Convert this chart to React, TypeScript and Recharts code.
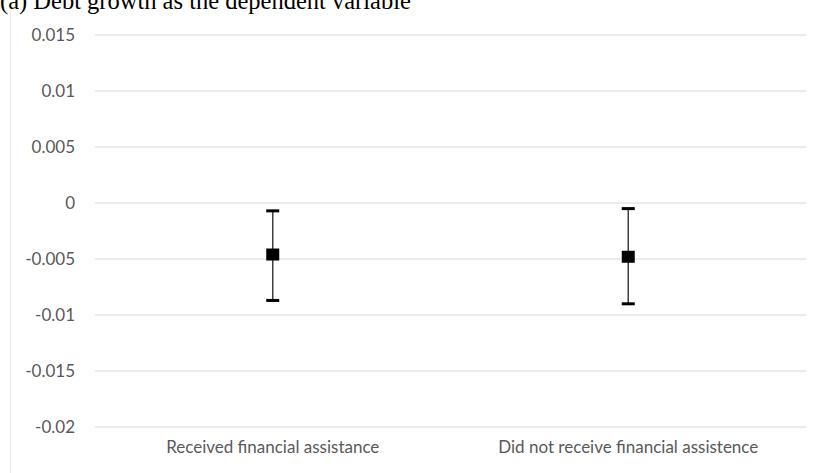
import React from "react";
import { ComposedChart, Line, ErrorBar, XAxis, YAxis, CartesianGrid } from "recharts";

const groups = ["Received financial assistance", "Did not receive financial assistence"];
const means = [-0.0046, -0.0048];
const lows = [-0.0087, -0.009];
const highs = [-0.0007, -0.0005];
const yTicks = [-0.02, -0.015, -0.01, -0.005, 0, 0.005, 0.01, 0.015];

const data = groups.map((name, i) => ({
  name,
  mean: means[i],
  lo: lows[i],
  hi: highs[i],
  err: [means[i] - lows[i], highs[i] - means[i]],
}));

const Square = (props: any) => {
  const { cx, cy } = props;
  if (cx == null || cy == null) return null;
  return <rect x={cx - 6.5} y={cy - 6} width={13} height={12} fill="#000" />;
};

const Cap = (props: any) => {
  const { cx, cy } = props;
  if (cx == null || cy == null) return null;
  return <rect x={cx - 6.5} y={cy - 1.5} width={13} height={3} fill="#000" />;
};

const tickFont = { fill: "#595959", fontSize: 17, fontFamily: "Lato, 'Open Sans', sans-serif" };

export default function App() {
  return (
    <div style={{ position: "absolute", left: 0, top: 0, width: 821, height: 473, overflow: "hidden", background: "#fff" }}>
      <div style={{ position: "absolute", left: 10, top: 11, width: 1, height: 462, background: "#eaeaea" }} />
      <div
        style={{
          position: "absolute",
          left: 0,
          top: -11,
          fontFamily: "'Liberation Serif', 'Times New Roman', serif",
          fontSize: 24.5,
          lineHeight: "24px",
          color: "#000",
          whiteSpace: "nowrap",
        }}
      >
        (a) Debt growth as the dependent variable
      </div>
      <ComposedChart
        width={821}
        height={473}
        data={data}
        margin={{ top: 35, right: 15, bottom: 0, left: 0 }}
      >
        <CartesianGrid vertical={false} stroke="#d9d9d9" strokeWidth={1} />
        <XAxis
          dataKey="name"
          scale="band"
          height={46}
          axisLine={false}
          tickLine={false}
          tickSize={0}
          tickMargin={14}
          tick={tickFont}
          interval={0}
        />
        <YAxis
          width={95}
          domain={[-0.02, 0.015]}
          ticks={yTicks}
          axisLine={false}
          tickLine={false}
          tickSize={0}
          tickMargin={20}
          tick={tickFont}
          allowDataOverflow
        />
        <Line dataKey="lo" stroke="none" dot={<Cap />} activeDot={false} isAnimationActive={false} />
        <Line dataKey="hi" stroke="none" dot={<Cap />} activeDot={false} isAnimationActive={false} />
        <Line dataKey="mean" stroke="none" dot={<Square />} activeDot={false} isAnimationActive={false}>
          <ErrorBar dataKey="err" width={0} stroke="#404040" strokeWidth={1.5} direction="y" />
        </Line>
      </ComposedChart>
    </div>
  );
}
